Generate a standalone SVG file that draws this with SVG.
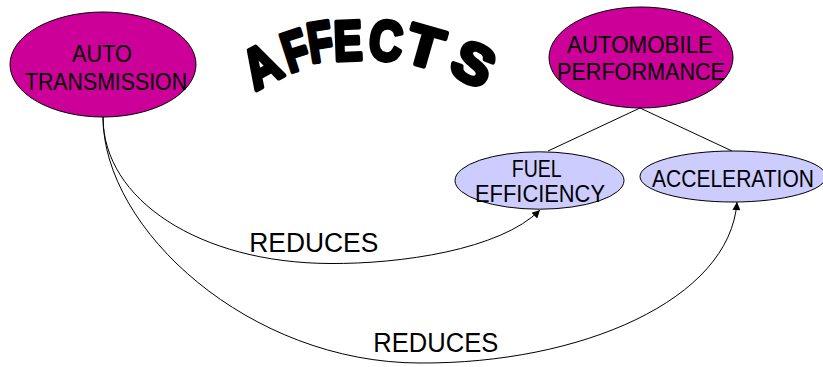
<svg xmlns="http://www.w3.org/2000/svg" width="823" height="367" viewBox="0 0 823 367">
  <style>
    .bg { fill: #ffffff; }
    .main { fill: #cc0099; stroke: #000000; stroke-width: 1; }
    .sub { fill: #ccccff; stroke: #000000; stroke-width: 1; }
    .lbl { font-family: "Liberation Sans", Arial, sans-serif; font-size: 23px; fill: #000000; }
    .edge-lbl { font-family: "Liberation Sans", Arial, sans-serif; font-size: 27px; fill: #000000; }
    .edge { fill: none; stroke: #000000; stroke-width: 1; }
    .title { font-family: "Liberation Sans", Arial, sans-serif; font-weight: bold; font-size: 56px; fill: #000000; stroke: #000000; stroke-width: 4.5; stroke-linejoin: round; }
  </style>
  <defs>
    <marker id="arrow" viewBox="0 0 10 10" refX="10" refY="5" markerWidth="10" markerHeight="8" markerUnits="userSpaceOnUse" orient="auto">
      <path d="M0,0 L10,5 L0,10 Z" fill="#000000"/>
    </marker>
  </defs>

  <rect class="bg" x="0" y="0" width="823" height="367"/>

  <!-- arched heading, one rotated glyph per letter -->
  <g id="heading">
    <text class="title" text-anchor="middle" transform="translate(261,65) rotate(-28) scale(0.85,1)" y="20">A</text>
    <text class="title" text-anchor="middle" transform="translate(295,50) rotate(-18) scale(0.72,1)" y="20">F</text>
    <text class="title" text-anchor="middle" transform="translate(320,41) rotate(-9) scale(0.72,1)" y="20">F</text>
    <text class="title" text-anchor="middle" transform="translate(348,40) rotate(-2) scale(0.76,1)" y="20">E</text>
    <text class="title" text-anchor="middle" transform="translate(386,40) rotate(6) scale(0.82,1)" y="20">C</text>
    <text class="title" text-anchor="middle" transform="translate(425,46) rotate(16) scale(1.05,1)" y="20">T</text>
    <text class="title" text-anchor="middle" transform="translate(474,63) rotate(28) scale(1.05,1)" y="20">S</text>
  </g>

  <!-- connectors -->
  <g id="connectors">
    <line class="edge" x1="640" y1="108" x2="548" y2="151"/>
    <line class="edge" x1="640" y1="108" x2="732" y2="151"/>
    <path class="edge" marker-end="url(#arrow)" d="M103,117 C103,200 200,263 330,263.5 C400,264 500,250 540,210"/>
    <path class="edge" marker-end="url(#arrow)" d="M103,117 C103,230 250,363 420,363 C580,364 730,300 737,202"/>
    <text class="edge-lbl" x="249.3" y="251.5" textLength="129" lengthAdjust="spacingAndGlyphs">REDUCES</text>
    <text class="edge-lbl" x="373.3" y="351.5" textLength="125" lengthAdjust="spacingAndGlyphs">REDUCES</text>
  </g>

  <g id="auto-transmission">
    <ellipse class="main" cx="103" cy="64.5" rx="93" ry="52.5"/>
    <text class="lbl" x="72" y="61.5" textLength="60" lengthAdjust="spacingAndGlyphs">AUTO</text>
    <text class="lbl" x="25" y="89.5" textLength="162" lengthAdjust="spacingAndGlyphs">TRANSMISSION</text>
  </g>

  <g id="automobile-performance">
    <ellipse class="main" cx="641" cy="57.5" rx="92" ry="50.5"/>
    <text class="lbl" x="567" y="53" textLength="146" lengthAdjust="spacingAndGlyphs">AUTOMOBILE</text>
    <text class="lbl" x="557" y="80" textLength="168" lengthAdjust="spacingAndGlyphs">PERFORMANCE</text>
  </g>

  <g id="fuel-efficiency">
    <ellipse class="sub" cx="539.5" cy="180.5" rx="84.5" ry="28.7"/>
    <text class="lbl" x="511.7" y="176.5" textLength="50" lengthAdjust="spacingAndGlyphs">FUEL</text>
    <text class="lbl" x="475" y="201.5" textLength="130" lengthAdjust="spacingAndGlyphs">EFFICIENCY</text>
  </g>

  <g id="acceleration">
    <ellipse class="sub" cx="733" cy="176.5" rx="93" ry="25.5"/>
    <text class="lbl" x="652" y="186.5" textLength="162" lengthAdjust="spacingAndGlyphs">ACCELERATION</text>
  </g>
</svg>
